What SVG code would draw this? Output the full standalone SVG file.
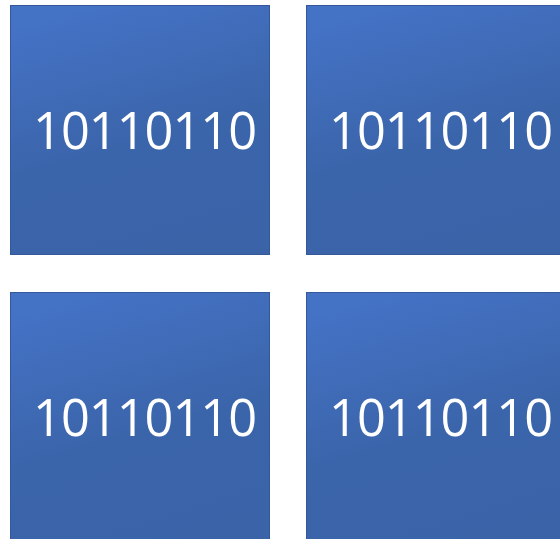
<svg xmlns="http://www.w3.org/2000/svg" width="560" height="539" viewBox="0 0 560 539">
<defs>
<linearGradient id="g" x1="0.3" y1="0" x2="0.6" y2="1">
<stop offset="0" stop-color="#4472C5"/>
<stop offset="0.55" stop-color="#3B65AB"/>
<stop offset="1" stop-color="#3A63A8"/>
</linearGradient>
<style>
.box{fill:url(#g);stroke:#34589A;stroke-width:1}
.t{font-family:"Open Sans","Noto Sans",sans-serif;font-size:50.5px;fill:#FFFFFF}
</style>
</defs>
<rect width="560" height="539" fill="#FFFFFF"/>
<g id="node1"><rect class="box" x="10.5" y="5.5" width="259" height="249"/><text class="t" x="33" y="148.5" textLength="224">10110110</text></g>
<g id="node2"><rect class="box" x="306.5" y="5.5" width="262" height="249"/><text class="t" x="329" y="148.5" textLength="224">10110110</text></g>
<g id="node3"><rect class="box" x="10.5" y="292.5" width="259" height="256"/><text class="t" x="33" y="435.5" textLength="224">10110110</text></g>
<g id="node4"><rect class="box" x="306.5" y="292.5" width="262" height="256"/><text class="t" x="329" y="435.5" textLength="224">10110110</text></g>
<g id="connectors"></g>
</svg>
